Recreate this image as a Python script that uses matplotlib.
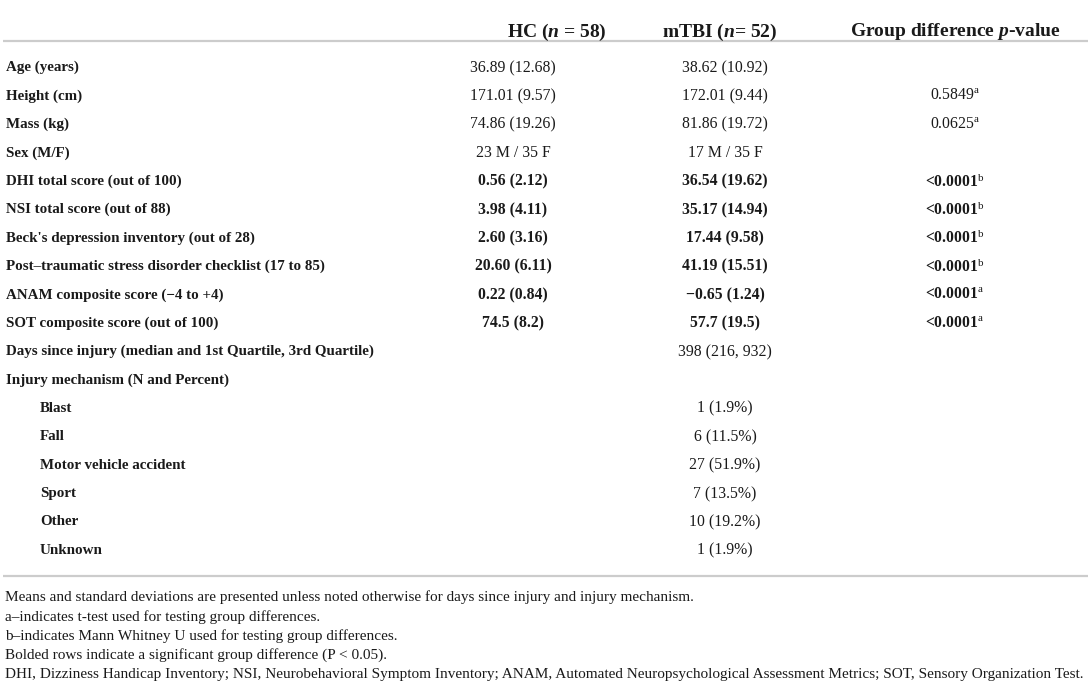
import matplotlib
matplotlib.use('Agg')
import matplotlib.pyplot as plt

plt.rcParams['font.family'] = 'Liberation Serif'
plt.rcParams['mathtext.fontset'] = 'custom'
plt.rcParams['mathtext.rm'] = 'Liberation Serif'
plt.rcParams['mathtext.it'] = 'Liberation Serif:italic'
plt.rcParams['mathtext.bf'] = 'Liberation Serif:bold'
plt.rcParams['mathtext.bfit'] = 'Liberation Serif:italic:bold'

# table content
headers = [r"HC ($\mathbfit{n}$ = 58)", r"mTBI ($\mathbfit{n}$= 52)", r"Group difference $\mathbfit{p}$-value"]

labels = ["Age (years)", "Height (cm)", "Mass (kg)", "Sex (M/F)",
          "DHI total score (out of 100)", "NSI total score (out of 88)",
          "Beck's depression inventory (out of 28)",
          "Post\u2013traumatic stress disorder checklist (17 to 85)",
          "ANAM composite score (\u22124 to +4)", "SOT composite score (out of 100)",
          "Days since injury (median and 1st Quartile, 3rd Quartile)",
          "Injury mechanism (N and Percent)",
          "Blast", "Fall", "Motor vehicle accident", "Sport", "Other", "Unknown"]
hc_vals = ["36.89 (12.68)", "171.01 (9.57)", "74.86 (19.26)", "23 M / 35 F",
           "0.56 (2.12)", "3.98 (4.11)", "2.60 (3.16)", "20.60 (6.11)",
           "0.22 (0.84)", "74.5 (8.2)", "", "", "", "", "", "", "", ""]
mtbi_vals = ["38.62 (10.92)", "172.01 (9.44)", "81.86 (19.72)", "17 M / 35 F",
             "36.54 (19.62)", "35.17 (14.94)", "17.44 (9.58)", "41.19 (15.51)",
             "\u22120.65 (1.24)", "57.7 (19.5)", "398 (216, 932)", "",
             "1 (1.9%)", "6 (11.5%)", "27 (51.9%)", "7 (13.5%)", "10 (19.2%)", "1 (1.9%)"]
p_vals = ["", "0.5849", "0.0625", "", "<0.0001", "<0.0001", "<0.0001", "<0.0001",
          "<0.0001", "<0.0001", "", "", "", "", "", "", "", ""]
p_tests = ["", "a", "a", "", "b", "b", "b", "b", "a", "a", "", "", "", "", "", "", "", ""]
significant = [False, False, False, False, True, True, True, True, True, True,
               False, False, False, False, False, False, False, False]
sub_items = [False] * 12 + [True] * 6

notes = ["Means and standard deviations are presented unless noted otherwise for days since injury and injury mechanism.",
         "a\u2013indicates t-test used for testing group differences.",
         "b\u2013indicates Mann Whitney U used for testing group differences.",
         "Bolded rows indicate a significant group difference (P < 0.05).",
         "DHI, Dizziness Handicap Inventory; NSI, Neurobehavioral Symptom Inventory; ANAM, Automated Neuropsychological Assessment Metrics; SOT, Sensory Organization Test."]

W, H = 1091, 686
fig = plt.figure(figsize=(W / 100, H / 100), dpi=100)
ax = fig.add_axes([0, 0, 1, 1])
ax.set_xlim(0, W)
ax.set_ylim(H, 0)
ax.axis('off')

col_x = [513, 725, 955]
head_x = [557, 720, 955]
txt = '#1a1a1a'
line_c = '#cccccc'

for x, h in zip(head_x, headers):
    ax.text(x, 29, h, ha='center', va='center_baseline', fontsize=14,
            fontweight='bold', color=txt)

ax.plot([3, 1088], [41, 41], color=line_c, lw=1.6, solid_capstyle='butt')
ax.plot([3, 1088], [576, 576], color=line_c, lw=1.6, solid_capstyle='butt')

for i, lab in enumerate(labels):
    y = 66 + i * 28.4
    w = 'bold' if significant[i] else 'normal'
    lx = 40 if sub_items[i] else 6
    ax.text(lx, y, lab, ha='left', va='center_baseline', fontsize=10.8,
            fontweight='bold', color=txt)
    ax.text(col_x[0], y, hc_vals[i], ha='center', va='center_baseline',
            fontsize=11.3, fontweight=w, color=txt)
    ax.text(col_x[1], y, mtbi_vals[i], ha='center', va='center_baseline',
            fontsize=11.3, fontweight=w, color=txt)
    if p_vals[i]:
        s = p_vals[i] + r"$^{\mathrm{%s}}$" % p_tests[i]
        ax.text(col_x[2], y, s, ha='center', va='center_baseline',
                fontsize=11.3, fontweight=w, color=txt)

for j, note in enumerate(notes):
    ax.text(5, 596 + j * 19.3, note, ha='left', va='center_baseline',
            fontsize=11, color=txt)

fig.savefig('out.png', dpi=100)
